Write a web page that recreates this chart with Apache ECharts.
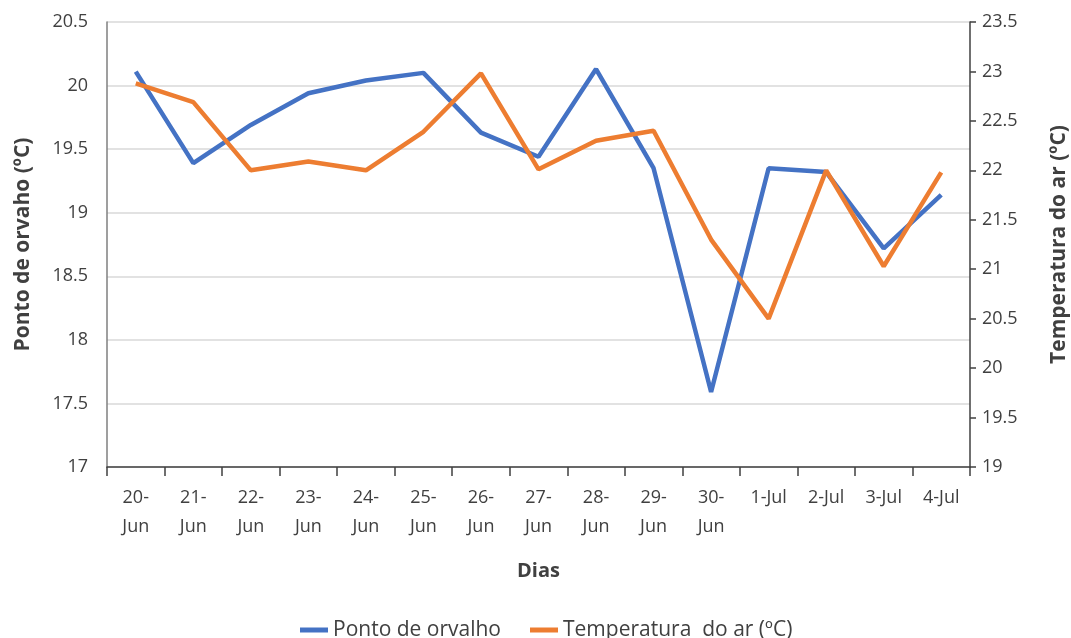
<!DOCTYPE html>
<html><head><meta charset="utf-8">
<script src="https://cdn.jsdelivr.net/npm/echarts@6/dist/echarts.min.js"></script>
<style>html,body{margin:0;padding:0;background:#fff}#c{width:1071px;height:638px}</style>
</head><body><div id="c"></div>
<script>
const categories = ['20-\nJun','21-\nJun','22-\nJun','23-\nJun','24-\nJun','25-\nJun','26-\nJun','27-\nJun','28-\nJun','29-\nJun','30-\nJun','1-Jul','2-Jul','3-Jul','4-Jul'];
const pontoOrvalho = [20.11,19.39,19.69,19.94,20.04,20.10,19.63,19.44,20.13,19.35,17.59,19.35,19.32,18.72,19.14];
const temperaturaAr = [22.88,22.69,22.0,22.09,22.0,22.39,22.98,22.01,22.3,22.4,21.3,20.5,22.0,21.03,21.98];
const seriesNames = ['Ponto de orvalho','Temperatura  do ar (ºC)'];
const leftAxisName = 'Ponto de orvaho (ºC)';
const rightAxisName = 'Temperatura do ar (ºC)';
const xAxisName = 'Dias';

const FONT = 'Open Sans';
const TXT = '#404040';
const chart = echarts.init(document.getElementById('c'), null, {renderer:'canvas'});
chart.setOption({
  backgroundColor:'#fff',
  animation:false,
  textStyle:{fontFamily:FONT},
  grid:{left:107,right:101,top:22,bottom:171,containLabel:false,outerBoundsMode:'none'},
  legend:{
    top:619,left:300,itemWidth:28,itemHeight:5,itemGap:29,padding:0,
    icon:'rect',
    textStyle:{fontFamily:FONT,fontSize:21,color:TXT,lineHeight:22},
    data:seriesNames
  },
  xAxis:{
    type:'category',data:categories,boundaryGap:true,
    name:xAxisName,nameLocation:'middle',nameGap:94,
    nameTextStyle:{fontFamily:FONT,fontSize:20,fontWeight:'bold',color:TXT},
    axisLine:{lineStyle:{color:TXT,width:1.5}},
    axisTick:{show:true,inside:false,length:9,alignWithLabel:false,lineStyle:{color:TXT,width:1.5}},
    axisLabel:{fontFamily:FONT,fontSize:18,color:TXT,margin:16,lineHeight:29,interval:0}
  },
  yAxis:[{
    type:'value',min:17,max:20.5,interval:0.5,position:'left',
    name:leftAxisName,nameLocation:'middle',nameGap:73,nameRotate:90,
    nameTextStyle:{fontFamily:FONT,fontSize:21,fontWeight:'bold',color:TXT},
    axisLine:{show:true,lineStyle:{color:'#7f7f7f',width:1.5}},
    axisTick:{show:false},
    axisLabel:{fontFamily:FONT,fontSize:18,color:TXT,margin:19,formatter:v=>String(+v.toFixed(1))},
    splitLine:{show:true,lineStyle:{color:'#d9d9d9',width:1.5}}
  },{
    type:'value',min:19,max:23.5,interval:0.5,position:'right',
    name:rightAxisName,nameLocation:'middle',nameGap:79,nameRotate:90,
    nameTextStyle:{fontFamily:FONT,fontSize:21,fontWeight:'bold',color:TXT},
    axisLine:{show:true,lineStyle:{color:TXT,width:1.5}},
    axisTick:{show:true,inside:false,length:6,lineStyle:{color:TXT,width:1.5}},
    axisLabel:{fontFamily:FONT,fontSize:18,color:TXT,margin:12,formatter:v=>String(+v.toFixed(1))},
    splitLine:{show:false}
  }],
  series:[{
    name:seriesNames[0],type:'line',yAxisIndex:0,data:pontoOrvalho,
    symbol:'none',lineStyle:{color:'#4472c4',width:4.5},itemStyle:{color:'#4472c4'}
  },{
    name:seriesNames[1],type:'line',yAxisIndex:1,data:temperaturaAr,
    symbol:'none',lineStyle:{color:'#ed7d31',width:4.5},itemStyle:{color:'#ed7d31'}
  }]
});
</script></body></html>
